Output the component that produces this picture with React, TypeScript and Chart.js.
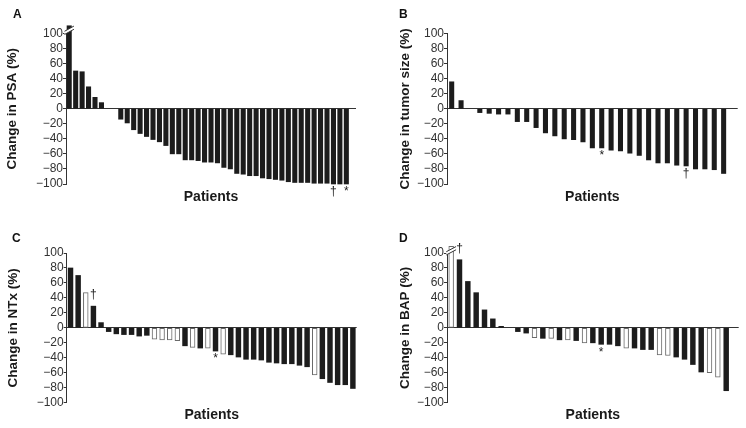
import React, { useEffect, useRef } from "react";
import { Chart, registerables } from "chart.js";

Chart.register(...registerables);

const FONT_FAMILY = "'Liberation Sans', Arial, Helvetica, sans-serif";
const FILL = "#1c1c1c";
const OPEN_EDGE = "#6a6a6a";
const AXIS = "#333333";
const TEXT = "#1a1a1a";

// ---- Data (percent change per patient; null = empty slot) ----
const yMin = -100;
const yMax = 100;
const yStep = 20;

// A – PSA (first bar is off-scale, drawn with an axis break)
const psaChange = [
  110, 50, 49, 29, 15, 8, null, null,
  -14, -19, -28, -33, -37, -41, -44, -49,
  -60, -60, -68, -68, -69, -71, -71, -72,
  -78, -80, -86, -87, -89, -89, -92, -93,
  -94, -95, -97, -98, -98, -98, -99, -99,
  -99, -100, -100, -100,
];
const psaBreaks = [0];
const psaMarks = [
  { index: 41, symbol: "\u2020", side: "below" },
  { index: 43, symbol: "*", side: "below" },
];

// B – tumor size
const tumorChange = [
  36, 11, null,
  -5, -6, -7, -7, -17, -17, -25, -32,
  -36, -40, -41, -44, -52, -52, -55, -56,
  -59, -62, -68, -72, -72, -75, -76, -80,
  -80, -81, -86,
];
const tumorMarks = [
  { index: 16, symbol: "*", side: "below" },
  { index: 25, symbol: "\u2020", side: "below" },
];

// C – NTx
const ntxChange = [
  80, 70, 47, 29, 7, -5, -8, -9, -9, -11,
  -10, -15, -16, -16, -17, -24, -26, -27, -27, -31,
  -35, -36, -39, -42, -42, -43, -46, -47, -48, -48,
  -50, -52, -63, -68, -73, -76, -76, -81,
];
const ntxOpenBars = [2, 11, 12, 13, 14, 16, 18, 20, 32];
const ntxMarks = [
  { index: 3, symbol: "\u2020", side: "above" },
  { index: 19, symbol: "*", side: "below" },
];

// D – BAP (first bar is off-scale, drawn with an axis break)
const bapChange = [
  109, 91, 62, 47, 24, 12, 2, null,
  -5, -7, -13, -14, -14, -16, -16, -17,
  -20, -20, -22, -22, -24, -27, -27, -29,
  -29, -36, -37, -39, -42, -49, -59, -60,
  -66, -84,
];
const bapOpenBars = [0, 10, 12, 14, 16, 21, 25, 26, 31, 32];
const bapBreaks = [0];
const bapMarks = [
  { index: 1, symbol: "\u2020", side: "above" },
  { index: 18, symbol: "*", side: "below" },
];

type Mark = { index: number; symbol: string; side: string };
type Layout = {
  left: number; top: number; axisWidth: number; padTop: number; padRight: number;
  xHeight: number; yTitlePad: number; xTitlePad: number; slots: number;
  barThickness: number; letterX: number; letterY: number;
};
type PanelSpec = {
  letter: string; yTitle: string; values: (number | null)[]; openBars: number[];
  breaks: number[]; breakValue: number; marks: Mark[]; layout: Layout;
};

const W = 373;
const H = 214;

const panels: PanelSpec[] = [
  {
    letter: "A", yTitle: "Change in PSA (%)", values: psaChange, openBars: [],
    breaks: psaBreaks, breakValue: 104, marks: psaMarks,
    layout: { left: 0, top: 0, axisWidth: 66, padTop: 33.3, padRight: 17, xHeight: 30,
      yTitlePad: 4.6, xTitlePad: 8.6, slots: 45, barThickness: 4.4, letterX: 13, letterY: 18.3 },
  },
  {
    letter: "B", yTitle: "Change in tumor size (%)", values: tumorChange, openBars: [],
    breaks: [], breakValue: 0, marks: tumorMarks,
    layout: { left: 373, top: 0, axisWidth: 74, padTop: 33.7, padRight: 8.3, xHeight: 30,
      yTitlePad: 24.2, xTitlePad: 8.6, slots: 31, barThickness: 4.4, letterX: 26, letterY: 18.3 },
  },
  {
    letter: "C", yTitle: "Change in NTx (%)", values: ntxChange, openBars: ntxOpenBars,
    breaks: [], breakValue: 0, marks: ntxMarks,
    layout: { left: 0, top: 214, axisWidth: 66.7, padTop: 39, padRight: 16.3, xHeight: 25.3,
      yTitlePad: 5.2, xTitlePad: 4.1, slots: 38, barThickness: 4.8, letterX: 12, letterY: 28.3 },
  },
  {
    letter: "D", yTitle: "Change in BAP (%)", values: bapChange, openBars: bapOpenBars,
    breaks: bapBreaks, breakValue: 103, marks: bapMarks,
    layout: { left: 373, top: 214, axisWidth: 74, padTop: 39, padRight: 7.3, xHeight: 25.3,
      yTitlePad: 24.2, xTitlePad: 4.1, slots: 35, barThickness: 4.8, letterX: 26, letterY: 28.3 },
  },
];

function makeDecor(panel: PanelSpec) {
  return {
    id: "decor" + panel.letter,
    afterDatasetsDraw(chart: any) {
      const ctx = chart.ctx;
      const meta = chart.getDatasetMeta(0);
      const yScale = chart.scales.y;
      ctx.save();
      for (const i of panel.breaks) {
        const el = meta.data[i];
        if (!el) continue;
        const yc = yScale.getPixelForValue(panel.breakValue);
        const half = el.width / 2 + 2.5;
        const s = 2.6;
        const g = 1.6;
        ctx.beginPath();
        ctx.moveTo(el.x - half, yc - g + s);
        ctx.lineTo(el.x + half, yc - g - s);
        ctx.lineTo(el.x + half, yc + g - s);
        ctx.lineTo(el.x - half, yc + g + s);
        ctx.closePath();
        ctx.fillStyle = "#ffffff";
        ctx.fill();
        ctx.beginPath();
        ctx.moveTo(el.x - half, yc - g + s);
        ctx.lineTo(el.x + half, yc - g - s);
        ctx.moveTo(el.x - half, yc + g + s);
        ctx.lineTo(el.x + half, yc + g - s);
        ctx.strokeStyle = AXIS;
        ctx.lineWidth = 1;
        ctx.stroke();
      }
      ctx.font = `12px ${FONT_FAMILY}`;
      ctx.fillStyle = TEXT;
      ctx.textAlign = "center";
      ctx.textBaseline = "middle";
      for (const m of panel.marks) {
        const el = meta.data[m.index];
        if (!el) continue;
        const y = m.side === "above" ? el.y - 11 : el.y + 8;
        ctx.fillText(m.symbol, el.x, y);
      }
      ctx.font = `bold 12px ${FONT_FAMILY}`;
      ctx.textAlign = "left";
      ctx.textBaseline = "alphabetic";
      ctx.fillStyle = "#111111";
      ctx.fillText(panel.letter, panel.layout.letterX, panel.layout.letterY);
      ctx.restore();
    },
  };
}

function PanelChart({ panel }: { panel: PanelSpec }) {
  const ref = useRef<HTMLCanvasElement>(null);
  const L = panel.layout;
  useEffect(() => {
    const canvas = ref.current;
    if (!canvas) return;
    const openSet = new Set(panel.openBars);
    const labels = Array.from({ length: L.slots }, () => "");
    const chart = new Chart(canvas, {
      type: "bar",
      data: {
        labels,
        datasets: [
          {
            data: panel.values as any,
            backgroundColor: panel.values.map((_, i) => (openSet.has(i) ? "#ffffff" : FILL)),
            borderColor: panel.values.map((_, i) => (openSet.has(i) ? OPEN_EDGE : FILL)),
            borderWidth: panel.values.map((_, i) => (openSet.has(i) ? 1 : 0)),
            borderSkipped: false,
            barThickness: L.barThickness,
            clip: false as any,
          },
        ],
      },
      options: {
        responsive: false,
        animation: false,
        devicePixelRatio: 1,
        layout: { padding: { top: L.padTop, right: L.padRight, left: 0, bottom: 0 } },
        plugins: {
          legend: { display: false },
          tooltip: { enabled: false },
          title: { display: false },
        },
        scales: {
          x: {
            type: "category",
            offset: true,
            grid: { display: false },
            border: { display: false },
            ticks: { display: false },
            title: {
              display: true,
              text: "Patients",
              color: TEXT,
              font: { family: FONT_FAMILY, size: 14, weight: "bold" },
              padding: { top: 0, bottom: L.xTitlePad },
            },
            afterFit: (s: any) => {
              s.height = L.xHeight;
            },
          },
          y: {
            min: yMin,
            max: yMax,
            ticks: {
              stepSize: yStep,
              autoSkip: false,
              padding: 0,
              color: "#333333",
              font: { family: FONT_FAMILY, size: 12 },
              callback: (v: any) => (Number(v) < 0 ? "\u2212" + Math.abs(Number(v)) : String(v)),
            },
            grid: {
              color: (c: any) => (c.tick && c.tick.value === 0 ? AXIS : "rgba(0,0,0,0)"),
              tickColor: AXIS,
              tickLength: 3,
              lineWidth: 1,
            },
            border: { display: true, color: AXIS, width: 1 },
            title: {
              display: true,
              text: panel.yTitle,
              color: TEXT,
              font: { family: FONT_FAMILY, size: 13.5, weight: "bold" },
              padding: { top: L.yTitlePad, bottom: 0 },
            },
            afterFit: (s: any) => {
              s.width = L.axisWidth;
            },
          },
        },
      },
      plugins: [makeDecor(panel)],
    } as any);
    return () => chart.destroy();
  }, []);
  return (
    <canvas
      ref={ref}
      width={W}
      height={H}
      style={{ position: "absolute", left: L.left, top: L.top, width: W, height: H }}
    />
  );
}

export default function App() {
  return (
    <div
      style={{
        position: "absolute",
        left: 0,
        top: 0,
        width: 746,
        height: 428,
        background: "#ffffff",
        overflow: "hidden",
      }}
    >
      {panels.map((p) => (
        <PanelChart key={p.letter} panel={p} />
      ))}
    </div>
  );
}
